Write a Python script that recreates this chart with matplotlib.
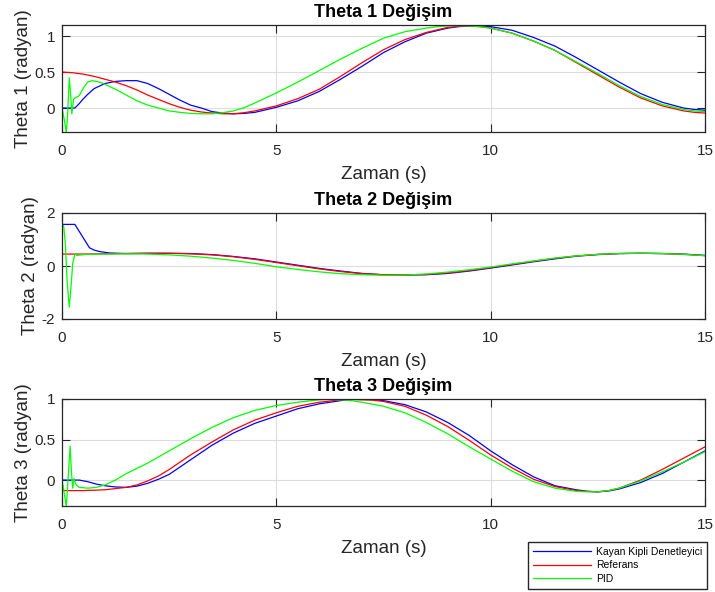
import numpy as np
import matplotlib
matplotlib.use("Agg")
import matplotlib.pyplot as plt

plt.rcParams['font.family'] = ['Liberation Sans', 'DejaVu Sans']

# --- Theta 1 ---
t1_ref = [0, 0.25, 0.5, 0.75, 1.0, 1.25, 1.5, 1.75, 2.0, 2.25, 2.5, 2.75, 3.0, 3.25, 3.5,
          3.75, 4.0, 4.25, 4.5, 5.0, 5.5, 6.0, 6.5, 7.0, 7.5, 8.0, 8.5, 9.0, 9.25, 9.5,
          9.75, 10.0, 10.5, 11.0, 11.5, 12.0, 12.5, 13.0, 13.5, 14.0, 14.5, 14.75, 15.0]
th1_ref = [0.50, 0.49, 0.47, 0.44, 0.40, 0.36, 0.31, 0.25, 0.18, 0.12, 0.06, 0.01, -0.03,
           -0.055, -0.07, -0.08, -0.08, -0.065, -0.04, 0.03, 0.13, 0.26, 0.44, 0.63, 0.81,
           0.95, 1.05, 1.12, 1.135, 1.14, 1.13, 1.11, 1.04, 0.93, 0.80, 0.63, 0.46, 0.29,
           0.14, 0.03, -0.04, -0.06, -0.07]

t1_smc = [0, 0.3, 0.4, 0.5, 0.6, 0.75, 1.0, 1.25, 1.5, 1.75, 2.0, 2.25, 2.5, 2.75, 3.0,
          3.25, 3.5, 3.75, 4.0, 4.25, 4.5, 5.0, 5.5, 6.0, 6.5, 7.0, 7.5, 8.0, 8.5, 9.0,
          9.25, 9.5, 9.75, 10.0, 10.5, 11.0, 11.5, 12.0, 12.5, 13.0, 13.5, 14.0, 14.5,
          14.75, 15.0]
th1_smc = [0.0, 0.0, 0.06, 0.13, 0.19, 0.27, 0.34, 0.37, 0.38, 0.38, 0.34, 0.27, 0.19,
           0.11, 0.04, 0.0, -0.05, -0.07, -0.08, -0.075, -0.06, 0.01, 0.10, 0.23, 0.40,
           0.58, 0.77, 0.92, 1.04, 1.11, 1.13, 1.14, 1.14, 1.13, 1.08, 0.98, 0.86, 0.70,
           0.53, 0.36, 0.20, 0.08, 0.00, -0.02, -0.03]

t1_pid = [0, 0.05, 0.1, 0.13, 0.17, 0.2, 0.23, 0.27, 0.3, 0.4, 0.5, 0.6, 0.7, 0.8, 0.9,
          1.0, 1.25, 1.5, 1.75, 2.0, 2.25, 2.5, 2.75, 3.0, 3.25, 3.5, 3.75, 4.0, 4.25,
          4.5, 5.0, 5.5, 6.0, 6.5, 7.0, 7.5, 8.0, 8.5, 8.75, 9.0, 9.25, 9.5, 9.75, 10.0,
          10.5, 11.0, 11.5, 12.0, 12.5, 13.0, 13.5, 14.0, 14.5, 14.75, 15.0]
th1_pid = [0.0, -0.15, -0.34, -0.10, 0.42, 0.20, -0.08, 0.12, 0.14, 0.17, 0.28, 0.36,
           0.38, 0.37, 0.355, 0.33, 0.26, 0.18, 0.10, 0.04, 0.0, -0.04, -0.06, -0.075,
           -0.08, -0.08, -0.065, -0.04, 0.005, 0.07, 0.21, 0.36, 0.52, 0.68, 0.83, 0.97,
           1.06, 1.11, 1.13, 1.14, 1.145, 1.14, 1.13, 1.11, 1.04, 0.93, 0.80, 0.64, 0.48,
           0.31, 0.16, 0.05, -0.02, -0.04, -0.05]

# --- Theta 2 ---
t2_ref = [0, 0.5, 1.0, 1.5, 2.0, 2.5, 3.0, 3.5, 4.0, 4.5, 5.0, 5.5, 6.0, 6.5, 7.0, 7.5,
          8.0, 8.5, 9.0, 9.5, 10.0, 10.5, 11.0, 11.5, 12.0, 12.5, 13.0, 13.5, 14.0, 14.5,
          15.0]
th2_ref = [0.45, 0.45, 0.46, 0.47, 0.48, 0.48, 0.46, 0.42, 0.35, 0.25, 0.13, 0.01, -0.11,
           -0.21, -0.29, -0.33, -0.34, -0.32, -0.26, -0.17, -0.06, 0.06, 0.18, 0.29, 0.38,
           0.44, 0.47, 0.48, 0.47, 0.44, 0.39]

t2_smc = [0, 0.3, 0.64, 0.75, 0.89, 1.12, 1.5, 2.0, 2.5, 3.0, 3.5, 4.0, 4.5, 5.0, 5.5, 6.0,
          6.5, 7.0, 7.5, 8.0, 8.5, 9.0, 9.5, 10.0, 10.5, 11.0, 11.5, 12.0, 12.5, 13.0,
          13.5, 14.0, 14.5, 15.0]
th2_smc = [1.57, 1.57, 0.69, 0.60, 0.54, 0.49, 0.47, 0.48, 0.48, 0.47, 0.43, 0.36, 0.27,
           0.15, 0.03, -0.09, -0.19, -0.28, -0.33, -0.34, -0.33, -0.28, -0.19, -0.08, 0.04,
           0.16, 0.27, 0.37, 0.43, 0.47, 0.48, 0.47, 0.45, 0.40]

t2_pid = [0, 0.04, 0.08, 0.12, 0.17, 0.21, 0.25, 0.3, 0.35, 0.45, 0.6, 1.0, 1.5, 2.0, 2.5,
          3.0, 3.5, 4.0, 4.5, 5.0, 5.5, 6.0, 6.5, 7.0, 7.5, 8.0, 8.5, 9.0, 9.5, 10.0, 10.5,
          11.0, 11.5, 12.0, 12.5, 13.0, 13.5, 14.0, 14.5, 15.0]
th2_pid = [1.57, 1.50, 0.80, -0.60, -1.55, -0.80, 0.10, 0.45, 0.40, 0.42, 0.44, 0.45, 0.46,
           0.45, 0.42, 0.37, 0.30, 0.21, 0.10, -0.03, -0.13, -0.22, -0.29, -0.33, -0.35,
           -0.34, -0.30, -0.23, -0.14, -0.04, 0.08, 0.19, 0.30, 0.38, 0.44, 0.47, 0.48,
           0.47, 0.44, 0.39]

# --- Theta 3 ---
t3_ref = [0, 0.5, 1.0, 1.5, 1.75, 2.0, 2.25, 2.5, 3.0, 3.5, 4.0, 4.5, 5.0, 5.5, 6.0, 6.5,
          6.75, 7.0, 7.25, 7.5, 8.0, 8.5, 9.0, 9.5, 10.0, 10.5, 11.0, 11.5, 12.0, 12.25,
          12.5, 12.75, 13.0, 13.5, 14.0, 14.5, 15.0]
th3_ref = [-0.13, -0.13, -0.12, -0.09, -0.06, -0.01, 0.05, 0.13, 0.31, 0.47, 0.62, 0.74,
           0.83, 0.91, 0.96, 0.99, 0.995, 0.99, 0.985, 0.97, 0.91, 0.80, 0.66, 0.49, 0.31,
           0.15, 0.01, -0.08, -0.13, -0.14, -0.145, -0.13, -0.10, 0.00, 0.13, 0.27, 0.41]

t3_smc = [0, 0.4, 0.6, 0.8, 1.0, 1.25, 1.5, 1.75, 2.0, 2.25, 2.5, 3.0, 3.5, 4.0, 4.5, 5.0,
          5.5, 6.0, 6.5, 6.75, 7.0, 7.25, 7.5, 8.0, 8.5, 9.0, 9.5, 10.0, 10.5, 11.0, 11.5,
          12.0, 12.25, 12.5, 12.75, 13.0, 13.5, 14.0, 14.5, 15.0]
th3_smc = [0.0, 0.0, -0.02, -0.05, -0.07, -0.085, -0.09, -0.075, -0.04, 0.01, 0.07, 0.25,
           0.43, 0.58, 0.70, 0.79, 0.88, 0.94, 0.98, 0.995, 1.00, 0.995, 0.98, 0.93, 0.84,
           0.71, 0.55, 0.36, 0.19, 0.04, -0.07, -0.12, -0.138, -0.145, -0.135, -0.11,
           -0.03, 0.08, 0.22, 0.36]

t3_pid = [0, 0.05, 0.1, 0.14, 0.19, 0.22, 0.25, 0.28, 0.32, 0.4, 0.6, 0.8, 1.0, 1.25, 1.5,
          2.0, 2.5, 3.0, 3.5, 4.0, 4.5, 5.0, 5.5, 6.0, 6.25, 6.5, 6.75, 7.0, 7.5, 8.0, 8.5,
          9.0, 9.5, 10.0, 10.5, 11.0, 11.5, 12.0, 12.25, 12.5, 12.75, 13.0, 13.5, 14.0,
          14.5, 15.0]
th3_pid = [0.0, -0.15, -0.33, 0.0, 0.42, 0.10, -0.10, 0.02, -0.05, -0.09, -0.10, -0.09,
           -0.06, 0.0, 0.08, 0.21, 0.36, 0.51, 0.65, 0.77, 0.86, 0.92, 0.96, 0.99, 0.995,
           0.99, 0.98, 0.96, 0.91, 0.83, 0.71, 0.57, 0.41, 0.26, 0.11, -0.02, -0.10, -0.14,
           -0.145, -0.145, -0.13, -0.10, -0.01, 0.10, 0.22, 0.35]

titles = ['Theta 1 Değişim', 'Theta 2 Değişim', 'Theta 3 Değişim']
ylabels = ['Theta 1 (radyan)', 'Theta 2 (radyan)', 'Theta 3 (radyan)']
yticks = [[0, 0.5, 1], [-2, 0, 2], [0, 0.5, 1]]
ytick_labels = [['0', '0.5', '1'], ['-2', '0', '2'], ['0', '0.5', '1']]
ylims = [(-0.333, 1.153), (-2, 2), (-0.32, 1.0)]
xticks = [0, 5, 10, 15]
series_names = ['Kayan Kipli Denetleyici', 'Referans', 'PID']

panels = [
    ((t1_smc, th1_smc), (t1_ref, th1_ref), (t1_pid, th1_pid)),
    ((t2_smc, th2_smc), (t2_ref, th2_ref), (t2_pid, th2_pid)),
    ((t3_smc, th3_smc), (t3_ref, th3_ref), (t3_pid, th3_pid)),
]
colors = ['#0000ff', '#ff0000', '#00ff00']

W, H = 715, 592
fig = plt.figure(figsize=(W / 100, H / 100), dpi=100)
# axes boxes in pixels: (left, top, right, bottom)
boxes = [(62, 25, 705, 132), (62, 213, 705, 319), (62, 399, 705, 506)]

dark = '#262626'
lines = []
for i, (l, t, r, b) in enumerate(boxes):
    ax = fig.add_axes([l / W, 1 - b / H, (r - l) / W, (b - t) / H])
    for (x, y), c in zip(panels[i], colors):
        ln, = ax.plot(x, y, color=c, lw=0.9)
        if i == 0:
            lines.append(ln)
    ax.set_xlim(0, 15)
    ax.set_ylim(*ylims[i])
    ax.set_xticks(xticks)
    ax.set_yticks(yticks[i])
    ax.set_yticklabels(ytick_labels[i])
    ax.tick_params(direction='in', length=6, width=0.8, colors=dark, labelsize=11,
                   top=True, right=True, pad=5)
    ax.tick_params(axis='x', pad=8.5)
    ax.grid(True, color='#dcdcdc', lw=0.8)
    ax.set_axisbelow(True)
    for sp in ax.spines.values():
        sp.set_color(dark)
        sp.set_linewidth(0.9)
    ax.set_title(titles[i], fontsize=13, fontweight='bold', pad=5.5)
    ax.set_xlabel('Zaman (s)', fontsize=13.5, color=dark, labelpad=6)
    ax.set_ylabel(ylabels[i], fontsize=13.5, color=dark, labelpad=1.5)

fig.legend(lines, series_names, loc='upper right',
           bbox_to_anchor=(707 / W, 1 - 542 / H),
           fontsize=7.5, frameon=True, fancybox=False, edgecolor=dark, framealpha=1,
           handlelength=5.6, handletextpad=0.5, borderpad=0.45, labelspacing=0.35,
           borderaxespad=0)

fig.savefig('out.png', dpi=100)
